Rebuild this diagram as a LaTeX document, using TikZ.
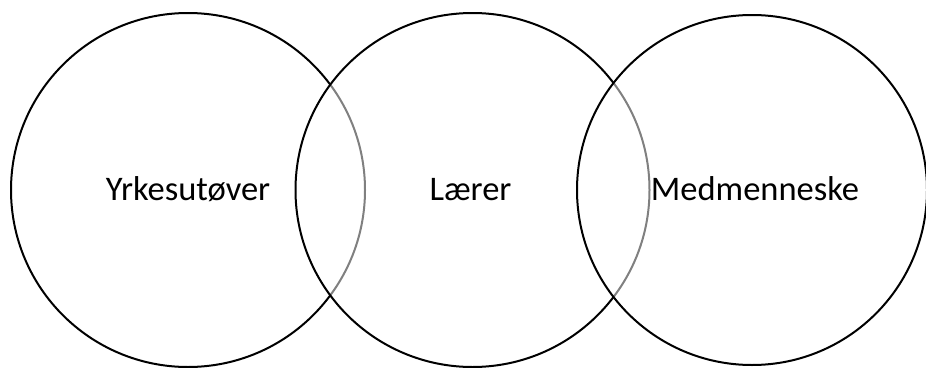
\documentclass[tikz,border=0pt]{standalone}
\usepackage{fontspec}
\setmainfont{Carlito}
\begin{document}
\begin{tikzpicture}[x=1pt,y=-1pt,
  ring/.style={circle,draw=black,line width=2pt,fill=white,fill opacity=0.5,draw opacity=1,inner sep=0pt,minimum size=#1},
  lbl/.style={font=\fontsize{34.5}{40}\selectfont,text=black,inner sep=0pt,anchor=base}]
\useasboundingbox (0,0) rectangle (926,367);
\node[ring=354pt] (c1) at (188,190) {};
\node[ring=354pt] (c2) at (472.5,190) {};
\node[ring=350pt] (c3) at (752,190) {};
\node[lbl] (t1) at (188,200) {Yrkesutøver};
\node[lbl] (t2) at (470.5,200) {Lærer};
\node[lbl] (t3) at (755,200) {Medmenneske};
\end{tikzpicture}
\end{document}
